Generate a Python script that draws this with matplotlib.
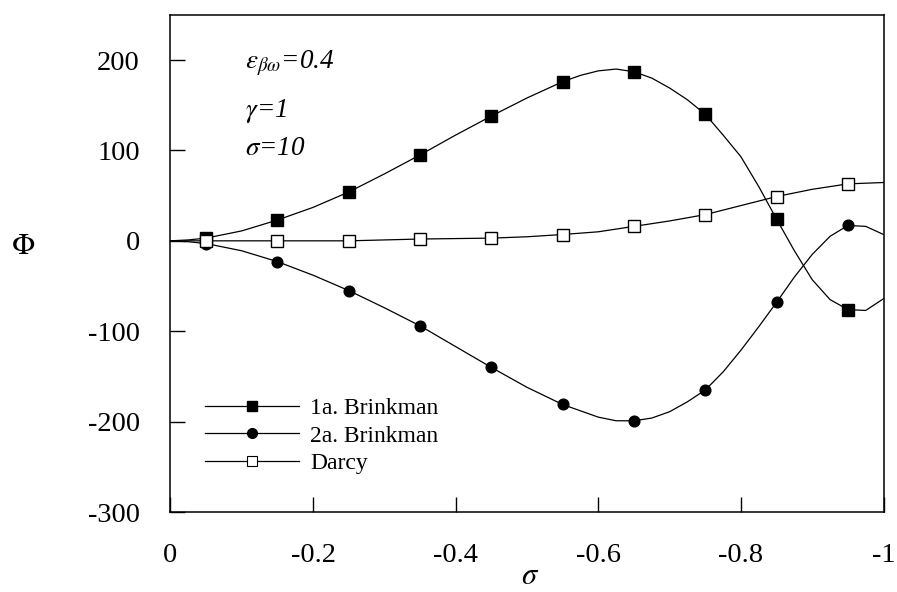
import numpy as np
import matplotlib
matplotlib.use("Agg")
import matplotlib.pyplot as plt
from matplotlib.lines import Line2D

plt.rcParams['font.family'] = ['Liberation Serif', 'DejaVu Serif']
plt.rcParams['mathtext.fontset'] = 'stix'
plt.rcParams['axes.unicode_minus'] = False

# marker positions (sigma) and values
sig_pts = [-0.05, -0.15, -0.25, -0.35, -0.45, -0.55, -0.65, -0.75, -0.85, -0.95]
brink1_pts = [3, 23, 54, 95, 138, 176, 187, 140, 24, -76]
brink2_pts = [-3, -23, -55, -94, -140, -181, -199, -165, -68, 17]
darcy_pts = [0, 0, 0, 2, 3, 7, 16, 29, 49, 63]

# curves
sig_b1 = [0, -0.025, -0.05, -0.1, -0.15, -0.2, -0.25, -0.3, -0.35, -0.4, -0.45, -0.5,
          -0.55, -0.575, -0.6, -0.625, -0.65, -0.675, -0.7, -0.725, -0.75, -0.775,
          -0.8, -0.825, -0.85, -0.875, -0.9, -0.925, -0.95, -0.975, -1.0]
brink1 = [0, 1, 3, 11, 23, 37, 54, 74, 95, 117, 138, 158,
          176, 183, 188, 190, 187, 180, 169, 156, 140, 117,
          93, 60, 24, -11, -43, -65, -76, -77, -64]

sig_b2 = [0, -0.025, -0.05, -0.1, -0.15, -0.2, -0.25, -0.3, -0.35, -0.4, -0.45, -0.5,
          -0.55, -0.6, -0.625, -0.65, -0.675, -0.7, -0.725, -0.75, -0.775, -0.8,
          -0.825, -0.85, -0.875, -0.9, -0.925, -0.95, -0.975, -1.0]
brink2 = [0, -1, -3, -11, -23, -38, -55, -74, -94, -117, -140, -162,
          -181, -195, -199, -199, -196, -189, -178, -165, -145, -121,
          -95, -68, -40, -15, 5, 17, 16, 7]

sig_d = [0, -0.05, -0.15, -0.25, -0.3, -0.35, -0.4, -0.45, -0.5, -0.55, -0.6, -0.65,
         -0.7, -0.75, -0.8, -0.85, -0.9, -0.95, -1.0]
darcy = [0, 0, 0, 0, 1, 2, 2.5, 3, 4.5, 7, 10, 16,
         22, 29, 39, 49, 57, 63, 64.5]

fig = plt.figure(figsize=(8.97, 5.92), dpi=100)
ax = fig.add_axes([0.19, 0.135, 0.795, 0.84])

ax.plot(sig_b1, brink1, color='black', lw=0.9)
ax.plot(sig_b2, brink2, color='black', lw=0.9)
ax.plot(sig_d, darcy, color='black', lw=0.9)

ax.plot(sig_pts, brink1_pts, 's', color='black', ms=8.6, ls='none')
ax.plot(sig_pts, brink2_pts, 'o', color='black', ms=7.7, ls='none')
ax.plot(sig_pts, darcy_pts, 's', mfc='white', mec='black', mew=1.0, ms=8.3, ls='none')

ax.set_xlim(0, -1)
ax.set_ylim(-300, 250)
ax.set_xticks([0, -0.2, -0.4, -0.6, -0.8, -1])
ax.set_xticklabels(['0', '-0.2', '-0.4', '-0.6', '-0.8', '-1'])
ax.set_yticks([-300, -200, -100, 0, 100, 200])
ax.tick_params(axis='both', direction='in', length=11, width=1, labelsize=20.5)
ax.tick_params(axis='x', pad=22)
ax.tick_params(axis='y', pad=22)
for s in ax.spines.values():
    s.set_linewidth(1.1)

# axis titles
fig.text(530 / 897, 1 - 577 / 592, r'$\sigma$', fontsize=22, ha='center', va='center')
fig.text(23 / 897, 1 - 247 / 592, r'$\Phi$', fontsize=22, ha='center', va='center')

ax.text(-0.105, 196, r'$\varepsilon_{\beta\omega}$=0.4', fontsize=19.5, style='italic', va='center')
ax.text(-0.105, 144, r'$\gamma$=1', fontsize=19.5, style='italic', va='center')
ax.text(-0.105, 102, r'$\sigma$=10', fontsize=19.5, style='italic', va='center')

handles = [
    Line2D([], [], color='black', lw=0.9, marker='s', ms=7.5),
    Line2D([], [], color='black', lw=0.9, marker='o', ms=7),
    Line2D([], [], color='black', lw=0.9, marker='s', ms=6.5, mfc='white', mec='black', mew=0.8),
]
ax.legend(handles, ['1a. Brinkman', '2a. Brinkman', 'Darcy'], loc='lower left',
          bbox_to_anchor=(0.049, 0.076), frameon=False, fontsize=17, handlelength=3.95,
          labelspacing=0.26, handletextpad=0.5, borderpad=0, borderaxespad=0)

fig.savefig('out.png', dpi=100)
